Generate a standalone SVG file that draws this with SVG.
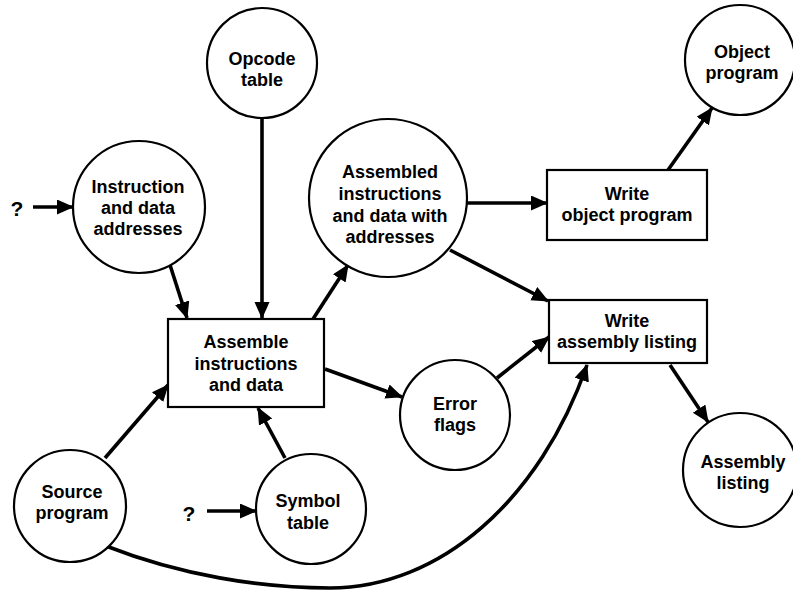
<svg xmlns="http://www.w3.org/2000/svg" width="793" height="591" viewBox="0 0 793 591">
  <defs>
    <marker id="arrow" markerUnits="userSpaceOnUse" markerWidth="18" markerHeight="16" refX="16" refY="7.5" orient="auto">
      <path d="M0,0 L17,7.5 L0,15 Z" fill="#000"/>
    </marker>
    <style>
      .node { fill: #fff; stroke: #000; stroke-width: 2.2; }
      .label { font-family: "Liberation Sans", Arial, sans-serif; font-weight: bold; font-size: 18px; fill: #000; text-anchor: middle; }
      .q { font-family: "Liberation Sans", Arial, sans-serif; font-weight: bold; font-size: 21px; fill: #000; text-anchor: middle; }
      .flow { fill: none; stroke: #000; stroke-width: 3.6; marker-end: url(#arrow); }
    </style>
  </defs>
  <rect width="793" height="591" fill="#fff"/>

  <!-- connectors -->
  <g id="connectors">
    <line class="flow" x1="33" y1="207" x2="73" y2="207"/>
    <line class="flow" x1="170" y1="265" x2="187" y2="318"/>
    <line class="flow" x1="262" y1="119" x2="262" y2="318"/>
    <line class="flow" x1="313" y1="319" x2="348" y2="265"/>
    <line class="flow" x1="467" y1="203" x2="547" y2="203"/>
    <line class="flow" x1="668" y1="170" x2="712" y2="108"/>
    <line class="flow" x1="450" y1="250" x2="548" y2="301"/>
    <line class="flow" x1="325" y1="369" x2="402" y2="397"/>
    <line class="flow" x1="497" y1="378" x2="549" y2="337"/>
    <line class="flow" x1="670" y1="365" x2="708" y2="422"/>
    <line class="flow" x1="105" y1="458" x2="168" y2="385"/>
    <line class="flow" x1="285" y1="458" x2="258" y2="408"/>
    <line class="flow" x1="207" y1="511" x2="256" y2="511"/>
    <path class="flow" d="M106,546 C180,575 260,588 330,588 C440,588 540,500 587,365"/>
  </g>

  <text class="q" x="17" y="216">?</text>
  <text class="q" x="189" y="521">?</text>

  <g id="opcode-table">
    <circle class="node" cx="262" cy="63" r="55"/>
    <text class="label" x="262" y="65">Opcode</text>
    <text class="label" x="262" y="86">table</text>
  </g>

  <g id="instruction-addresses">
    <circle class="node" cx="139" cy="207" r="66"/>
    <text class="label" x="138" y="193">Instruction</text>
    <text class="label" x="138" y="214">and data</text>
    <text class="label" x="138" y="235">addresses</text>
  </g>

  <g id="assembled-instructions">
    <circle class="node" cx="388" cy="198" r="79"/>
    <text class="label" x="390" y="178">Assembled</text>
    <text class="label" x="390" y="200">instructions</text>
    <text class="label" x="390" y="222">and data with</text>
    <text class="label" x="390" y="243">addresses</text>
  </g>

  <g id="assemble">
    <rect class="node" x="168" y="319" width="156" height="88"/>
    <text class="label" x="246" y="348">Assemble</text>
    <text class="label" x="246" y="370">instructions</text>
    <text class="label" x="246" y="391">and data</text>
  </g>

  <g id="write-object">
    <rect class="node" x="547" y="170" width="160" height="70"/>
    <text class="label" x="627" y="200">Write</text>
    <text class="label" x="627" y="221">object program</text>
  </g>

  <g id="object-program">
    <circle class="node" cx="740" cy="60" r="55"/>
    <text class="label" x="742" y="58">Object</text>
    <text class="label" x="742" y="79">program</text>
  </g>

  <g id="write-listing">
    <rect class="node" x="549" y="300" width="158" height="63"/>
    <text class="label" x="627" y="327">Write</text>
    <text class="label" x="627" y="348">assembly listing</text>
  </g>

  <g id="error-flags">
    <circle class="node" cx="455" cy="415" r="55"/>
    <text class="label" x="455" y="410">Error</text>
    <text class="label" x="455" y="431">flags</text>
  </g>

  <g id="assembly-listing">
    <circle class="node" cx="740" cy="470" r="57"/>
    <text class="label" x="743" y="468">Assembly</text>
    <text class="label" x="743" y="489">listing</text>
  </g>

  <g id="source-program">
    <circle class="node" cx="70" cy="506" r="56"/>
    <text class="label" x="72" y="498">Source</text>
    <text class="label" x="72" y="519">program</text>
  </g>

  <g id="symbol-table">
    <circle class="node" cx="311" cy="509" r="55"/>
    <text class="label" x="308" y="507">Symbol</text>
    <text class="label" x="308" y="529">table</text>
  </g>
</svg>
